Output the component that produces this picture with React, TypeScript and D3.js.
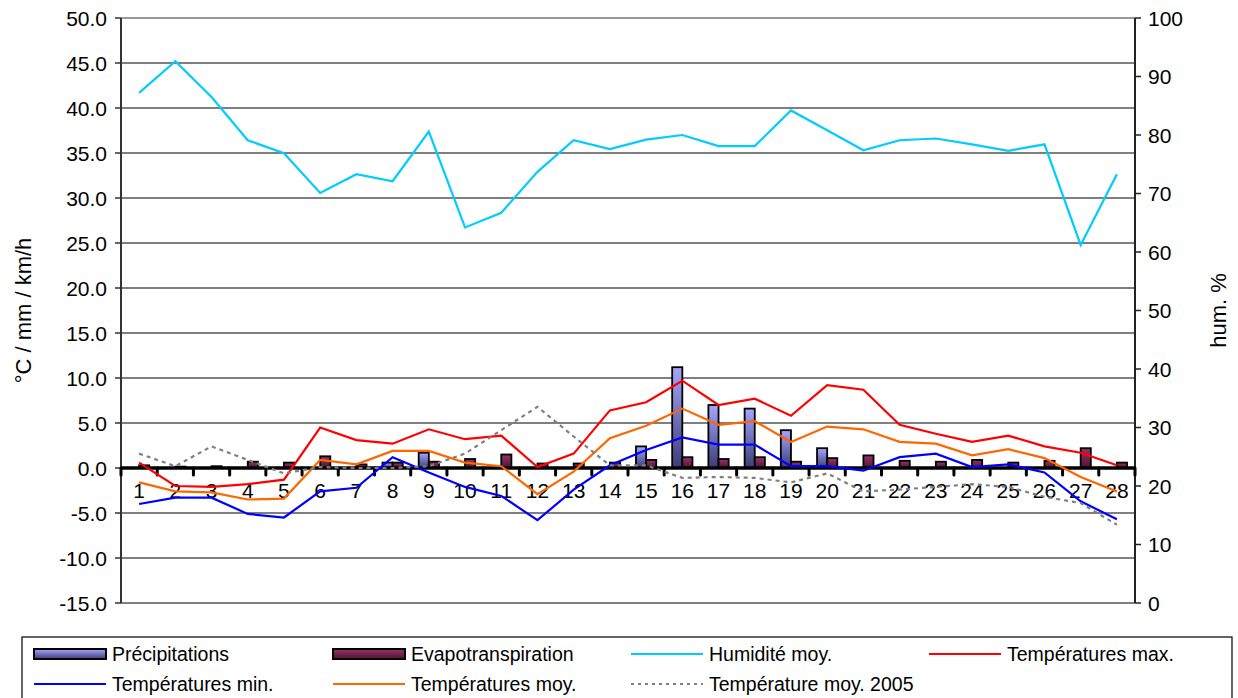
import React from "react"
import * as d3 from "d3"

const days = d3.range(1, 29).map(String)

const precipitations = [0, 0, 0, 0, 0, 0, 0, 0.6, 1.7, 0, 0, 0, 0, 0, 2.4, 11.2, 7.0, 6.6, 4.2, 2.2, 0, 0, 0, 0, 0, 0, 0, 0]
const evapotranspiration = [0.3, 0.15, 0.2, 0.7, 0.6, 1.3, 0.4, 0.6, 0.7, 1.0, 1.5, 0.5, 0.5, 0.6, 0.9, 1.2, 1.0, 1.2, 0.7, 1.1, 1.4, 0.8, 0.7, 0.9, 0.6, 0.8, 2.2, 0.6]
const humidite = [87.2, 92.6, 86.5, 79.1, 76.9, 70.1, 73.3, 72.1, 80.6, 64.2, 66.7, 73.7, 79.1, 77.6, 79.2, 80.0, 78.1, 78.1, 84.2, 80.8, 77.4, 79.1, 79.4, 78.4, 77.3, 78.4, 61.2, 73.3]
const tempMax = [0.6, -2.0, -2.1, -1.8, -1.3, 4.5, 3.1, 2.7, 4.3, 3.2, 3.6, 0.1, 1.6, 6.4, 7.3, 9.7, 7.0, 7.7, 5.8, 9.2, 8.7, 4.8, 3.8, 2.9, 3.6, 2.4, 1.7, 0.3]
const tempMin = [-4.0, -3.3, -3.3, -5.1, -5.5, -2.6, -2.2, 1.2, -0.5, -2.1, -3.1, -5.8, -2.4, 0.3, 2.0, 3.4, 2.6, 2.6, 0.2, 0.2, -0.3, 1.2, 1.6, 0.1, 0.4, -0.5, -3.7, -5.7]
const tempMoy = [-1.6, -2.6, -2.7, -3.5, -3.4, 0.9, 0.4, 1.9, 1.9, 0.6, 0.2, -2.9, -0.4, 3.3, 4.7, 6.6, 4.8, 5.2, 2.9, 4.6, 4.3, 2.9, 2.7, 1.4, 2.1, 1.1, -1.0, -2.6]
const tempMoy2005 = [1.6, 0.2, 2.4, 0.9, -0.6, 0.1, 0.0, 0.0, 0.2, 1.6, 4.2, 6.8, 3.5, 0.3, 0.3, -1.1, -1.0, -1.1, -1.6, -0.6, -2.6, -2.4, -2.1, -1.8, -2.1, -3.2, -3.9, -6.3]

const leftTicks = d3.range(-15, 50.1, 5)
const rightTicks = d3.range(0, 100.1, 10)

const W = 1238
const H = 698
const plot = { left: 121, right: 1135, top: 18, bottom: 603 }
const font = "'Liberation Sans', Arial, sans-serif"

const x = d3.scaleBand<string>().domain(days).range([plot.left, plot.right]).padding(0)
const yL = d3.scaleLinear().domain([-15, 50]).range([plot.bottom, plot.top])
const yR = d3.scaleLinear().domain([0, 100]).range([plot.bottom, plot.top])

const cx = (i: number) => (x(days[i]) as number) + x.bandwidth() / 2
const lineL = d3.line<number>().x((_, i) => cx(i)).y((d) => yL(d))
const lineR = d3.line<number>().x((_, i) => cx(i)).y((d) => yR(d))

const series = [
  { name: "Humidité moy.", data: humidite, color: "#00ccff", right: true, dash: "" },
  { name: "Températures max.", data: tempMax, color: "#ff0000", right: false, dash: "" },
  { name: "Températures min.", data: tempMin, color: "#0000ff", right: false, dash: "" },
  { name: "Températures moy.", data: tempMoy, color: "#ff6600", right: false, dash: "" },
  { name: "Température moy. 2005", data: tempMoy2005, color: "#808080", right: false, dash: "4,4" },
]

const legendItems = [
  { name: "Précipitations", kind: "bar", fill: "url(#gradPrec)", x: 34, y: 654 },
  { name: "Evapotranspiration", kind: "bar", fill: "url(#gradEvap)", x: 333, y: 654 },
  { name: "Humidité moy.", kind: "line", color: "#00ccff", dash: "", x: 631, y: 654 },
  { name: "Températures max.", kind: "line", color: "#ff0000", dash: "", x: 929, y: 654 },
  { name: "Températures min.", kind: "line", color: "#0000ff", dash: "", x: 34, y: 684 },
  { name: "Températures moy.", kind: "line", color: "#ff6600", dash: "", x: 333, y: 684 },
  { name: "Température moy. 2005", kind: "line", color: "#808080", dash: "3,4", x: 631, y: 684 },
]

export default function App() {
  const barW = x.bandwidth() * 0.28
  const y0 = yL(0)

  return (
    <svg width={W} height={H} style={{ position: "fixed", left: 0, top: 0, background: "#fff" }} fontFamily={font}>
      <defs>
        <linearGradient id="gradPrec" x1="0" y1="0" x2="0" y2="1">
          <stop offset="0%" stopColor="#a6a6ff" />
          <stop offset="100%" stopColor="#3c3c78" />
        </linearGradient>
        <linearGradient id="gradEvap" x1="0" y1="0" x2="0" y2="1">
          <stop offset="0%" stopColor="#99336a" />
          <stop offset="100%" stopColor="#4a1530" />
        </linearGradient>
      </defs>

      {/* grid */}
      {leftTicks.filter((t) => t !== 0 && t !== -15 && t !== 50).map((t) => (
        <line key={t} x1={plot.left} x2={plot.right} y1={yL(t)} y2={yL(t)} stroke="#000" strokeWidth={1.2} />
      ))}
      <line x1={plot.left} x2={plot.right} y1={plot.top} y2={plot.top} stroke="#999" strokeWidth={2} />
      <line x1={plot.left} x2={plot.right} y1={plot.bottom} y2={plot.bottom} stroke="#555" strokeWidth={1.5} />

      {/* left axis */}
      <line x1={plot.left} x2={plot.left} y1={plot.top} y2={plot.bottom} stroke="#333" strokeWidth={2} />
      {leftTicks.map((t) => (
        <g key={t}>
          <line x1={plot.left - 6} x2={plot.left} y1={yL(t)} y2={yL(t)} stroke="#333" strokeWidth={1.5} />
          <text x={107} y={yL(t)} dy="0.36em" textAnchor="end" fontSize={21}>{t.toFixed(1)}</text>
        </g>
      ))}
      <text transform={`translate(23,${(plot.top + plot.bottom) / 2}) rotate(-90)`} textAnchor="middle" dy="0.36em" fontSize={22}>°C / mm / km/h</text>

      {/* right axis */}
      <line x1={plot.right} x2={plot.right} y1={plot.top} y2={plot.bottom} stroke="#222" strokeWidth={2} />
      {rightTicks.map((t) => (
        <g key={t}>
          <line x1={plot.right} x2={plot.right + 6} y1={yR(t)} y2={yR(t)} stroke="#222" strokeWidth={1.5} />
          <text x={1148} y={yR(t)} dy="0.36em" textAnchor="start" fontSize={21}>{t}</text>
        </g>
      ))}
      <text transform={`translate(1218,${(plot.top + plot.bottom) / 2}) rotate(-90)`} textAnchor="middle" dy="0.36em" fontSize={22}>hum. %</text>

      {/* bars */}
      {days.map((d, i) => (
        <g key={d}>
          {precipitations[i] > 0 && (
            <rect x={cx(i) - barW} y={yL(precipitations[i])} width={barW} height={y0 - yL(precipitations[i])} fill="url(#gradPrec)" stroke="#000" strokeWidth={1.8} />
          )}
          {evapotranspiration[i] > 0 && (
            <rect x={cx(i)} y={yL(evapotranspiration[i])} width={barW} height={y0 - yL(evapotranspiration[i])} fill="url(#gradEvap)" stroke="#000" strokeWidth={1.8} />
          )}
        </g>
      ))}

      {/* zero axis with category ticks */}
      <line x1={plot.left} x2={plot.right} y1={y0} y2={y0} stroke="#000" strokeWidth={3.5} />
      {days.map((d) => (
        <line key={d} x1={x(d) as number} x2={x(d) as number} y1={y0} y2={y0 + 7} stroke="#000" strokeWidth={3} strokeLinecap="round" />
      ))}
      <line x1={plot.right} x2={plot.right} y1={y0} y2={y0 + 7} stroke="#000" strokeWidth={3} strokeLinecap="round" />
      {days.map((d, i) => (
        <text key={d} x={cx(i)} y={490} dy="0.36em" textAnchor="middle" fontSize={21}>{d}</text>
      ))}

      {/* lines */}
      {series.map((s) => (
        <path key={s.name} d={(s.right ? lineR : lineL)(s.data) as string} fill="none" stroke={s.color} strokeWidth={2.2} strokeDasharray={s.dash || undefined} />
      ))}

      {/* legend */}
      <rect x={22} y={637} width={1210} height={70} fill="#fff" stroke="#000" strokeWidth={1.2} />
      {legendItems.map((it) => (
        <g key={it.name}>
          {it.kind === "bar" ? (
            <rect x={it.x} y={it.y - 5} width={72} height={10} fill={it.fill} stroke="#000" strokeWidth={2} />
          ) : (
            <line x1={it.x} x2={it.x + 72} y1={it.y} y2={it.y} stroke={it.color} strokeWidth={2} strokeDasharray={it.dash || undefined} />
          )}
          <text x={it.x + 78} y={it.y} dy="0.36em" fontSize={19.5}>{it.name}</text>
        </g>
      ))}
    </svg>
  )
}
